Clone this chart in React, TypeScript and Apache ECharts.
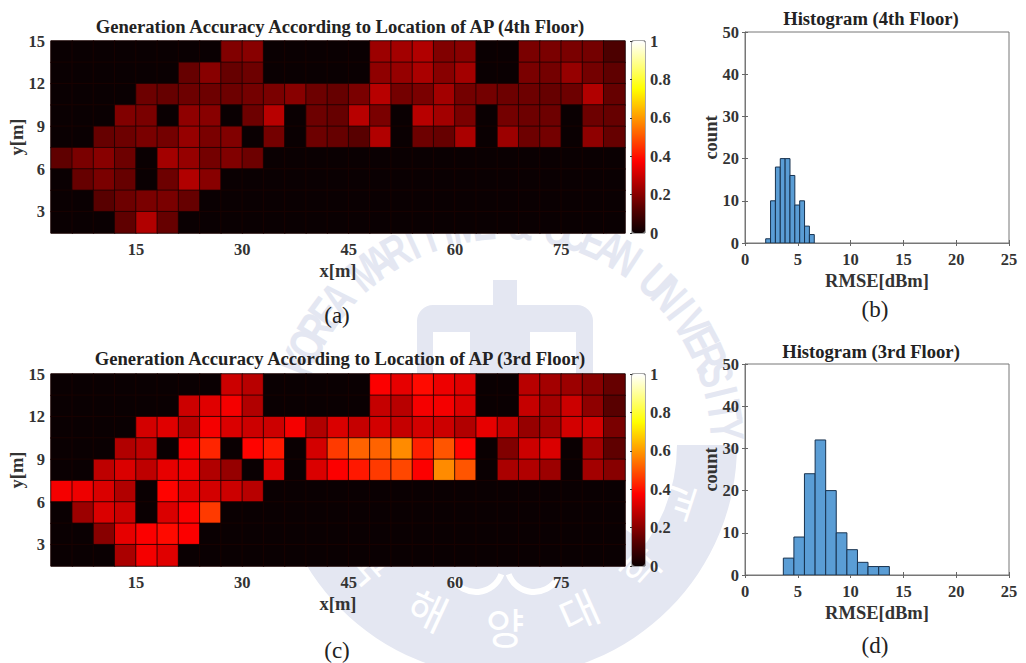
import React, { useEffect, useRef } from "react";
import * as echarts from "echarts";

const xCols = Array.from({ length: 27 }, (_, i) => `c${i}`);
const yRows = ["r0", "r1", "r2", "r3", "r4", "r5", "r6", "r7", "r8"];
const xTicks = [15, 30, 45, 60, 75];
const yTicks = [3, 6, 9, 12, 15];

// rows listed top (y = 15) to bottom (y = 1.5), 3 m wide columns
const floor4 = [
  [0,0,0,0,0,0,0,0,.19,.2,0,0,0,0,0,.23,.24,.26,.19,.2,0,0,.18,.18,.18,.17,.11],
  [0,0,0,0,0,0,.15,.2,.15,.16,0,0,0,0,0,.21,.22,.25,.2,.24,0,0,.18,.17,.22,.17,.14],
  [0,0,0,0,.16,.15,.16,.16,.16,.17,.18,.2,.16,.15,.18,.27,.17,.18,.24,.17,.17,.16,.16,.15,.16,.26,.15],
  [0,0,0,.19,.18,0,.21,.2,0,.16,.27,0,.16,.15,.27,.18,0,.27,.24,.18,0,.17,.16,.16,0,.16,.15],
  [0,0,.15,.16,.18,.17,.22,.18,.19,0,.17,0,.16,.15,.13,.26,0,.16,.15,.25,0,.23,.16,.17,0,.21,.15],
  [.14,.18,.2,.16,0,.24,.22,.17,.19,.16,0,0,0,0,0,0,0,0,0,0,0,0,0,0,0,0,0],
  [0,.15,.18,.15,0,.16,.26,.2,0,0,0,0,0,0,0,0,0,0,0,0,0,0,0,0,0,0,0],
  [0,0,.13,.16,.18,.18,.15,0,0,0,0,0,0,0,0,0,0,0,0,0,0,0,0,0,0,0,0],
  [0,0,0,.14,.26,.15,0,0,0,0,0,0,0,0,0,0,0,0,0,0,0,0,0,0,0,0,0],
];
const floor3 = [
  [0,0,0,0,0,0,0,0,.3,.27,0,0,0,0,0,.37,.34,.39,.35,.33,0,0,.27,.24,.23,.2,.15],
  [0,0,0,0,0,0,.3,.33,.36,.26,0,0,0,0,0,.29,.27,.36,.36,.32,0,0,.29,.24,.3,.21,.13],
  [0,0,0,0,.31,.33,.27,.36,.32,.3,.3,.36,.26,.32,.29,.31,.29,.31,.3,.26,.34,.29,.22,.24,.31,.31,.18],
  [0,0,0,.26,.28,0,.36,.43,0,.38,.41,0,.31,.46,.52,.52,.58,.42,.5,.38,0,.19,.3,.32,0,.24,.14],
  [0,0,.28,.32,.28,.34,.35,.26,.22,0,.33,0,.32,.37,.41,.46,.48,.37,.58,.5,0,.25,.26,.23,0,.24,.2],
  [.36,.35,.32,.26,0,.38,.33,.31,.3,.27,0,0,0,0,0,0,0,0,0,0,0,0,0,0,0,0,0],
  [0,.23,.32,.3,0,.32,.37,.46,0,0,0,0,0,0,0,0,0,0,0,0,0,0,0,0,0,0,0],
  [0,0,.2,.34,.37,.39,.37,0,0,0,0,0,0,0,0,0,0,0,0,0,0,0,0,0,0,0,0],
  [0,0,0,.25,.36,.33,0,0,0,0,0,0,0,0,0,0,0,0,0,0,0,0,0,0,0,0,0],
];

const hist4Edges = [1.96, 2.42, 2.88, 3.34, 3.8, 4.26, 4.72, 5.18, 5.64, 6.1, 6.56];
const hist4Counts = [1, 10, 18, 20, 20, 16, 9, 10, 4, 2];
const hist3Edges = [3.63, 4.63, 5.63, 6.64, 7.64, 8.64, 9.65, 10.65, 11.65, 12.66, 13.67];
const hist3Counts = [4, 9, 24, 32, 20, 10, 6, 3, 2, 2];

const hotColors = ["#0a0002", "#550000", "#aa0000", "#ff0000", "#ff5500", "#ffaa00", "#ffff00", "#ffff80", "#ffffff"];

const SERIF = "'Liberation Serif', 'Times New Roman', serif";
const TICK = { fontFamily: SERIF, fontWeight: "bold" as const, fontSize: 16.5, color: "#333" };
const NAME = { fontFamily: SERIF, fontWeight: "bold" as const, fontSize: 18.5, color: "#333" };

const heatCells = (rows: number[][]) => {
  const out: number[][] = [];
  rows.forEach((row, r) => row.forEach((v, c) => out.push([c, 8 - r, v])));
  return out;
};
const histBars = (edges: number[], counts: number[]) =>
  counts.map((c, i) => [edges[i], edges[i + 1], c]);

const renderHistBar = (_: any, api: any) => {
  const a = api.coord([api.value(0), 0]);
  const b = api.coord([api.value(1), api.value(2)]);
  return {
    type: "rect",
    shape: { x: a[0], y: b[1], width: b[0] - a[0], height: a[1] - b[1] },
    style: { fill: "#5a9dd5", stroke: "#17324f", lineWidth: 1 },
  };
};

const WM = "#e4e7f2";
const wmCx = 505;
const wmCy = 445;
const arcLetters = "KOREA MARITIME & OCEAN UNIVERSITY";
const koLetters = ["한", "국", "해", "양", "대", "학", "교"];
const koAngles = [197, 221, 245, 270, 294, 318, 342];

const watermark = () => {
  const rad = (d: number) => (d * Math.PI) / 180;
  const els: any[] = [
    { type: "sector", z: -5, shape: { cx: wmCx, cy: wmCy, r: 232, r0: 172, startAngle: 0, endAngle: Math.PI }, style: { fill: WM } },
    { type: "sector", z: -5, shape: { cx: wmCx, cy: wmCy, r: 175, r0: 110, startAngle: rad(35), endAngle: rad(145) }, style: { fill: WM } },
    { type: "arc", z: -4, shape: { cx: 476, cy: 565, r: 27, startAngle: rad(20), endAngle: rad(150) }, style: { stroke: "#fff", lineWidth: 6, fill: "none" } },
    { type: "arc", z: -4, shape: { cx: 534, cy: 565, r: 27, startAngle: rad(30), endAngle: rad(160) }, style: { stroke: "#fff", lineWidth: 6, fill: "none" } },
    { type: "rect", z: -5, shape: { x: 493, y: 280, width: 24, height: 30 }, style: { fill: WM } },
    { type: "rect", z: -5, shape: { x: 417, y: 305, width: 176, height: 70, r: [16, 16, 0, 0] }, style: { fill: WM } },
    { type: "rect", z: -4, shape: { x: 433, y: 332, width: 37, height: 43 }, style: { fill: "#fff" } },
    { type: "rect", z: -4, shape: { x: 530, y: 332, width: 46, height: 43 }, style: { fill: "#fff" } },
  ];
  const n = arcLetters.length;
  for (let i = 0; i < n; i++) {
    if (arcLetters[i] === " ") continue;
    const deg = 158 - (i * 154) / (n - 1);
    const t = rad(deg);
    els.push({
      type: "text", z: -5,
      x: wmCx + 222 * Math.cos(t), y: wmCy - 222 * Math.sin(t),
      rotation: t - Math.PI / 2, scaleY: 1.4,
      style: { text: arcLetters[i], fill: WM, font: "bold 34px 'Liberation Sans', sans-serif", align: "center", verticalAlign: "middle" },
    });
  }
  koLetters.forEach((ch, i) => {
    const t = rad(koAngles[i]);
    els.push({
      type: "text", z: -4,
      x: wmCx + 180 * Math.cos(t), y: wmCy - 180 * Math.sin(t),
      rotation: t + Math.PI / 2,
      style: { text: ch, fill: "#fff", font: "42px 'Noto Sans CJK KR', sans-serif", align: "center", verticalAlign: "middle" },
    });
  });
  return els;
};

const titleText = (text: string, left: number, top: number) => ({
  text, left, top, padding: 0, textAlign: "center", textVerticalAlign: "middle",
  textStyle: { fontFamily: SERIF, fontWeight: "bold", fontSize: 18.6, color: "#222" },
});
const captionText = (text: string, left: number, top: number) => ({
  text, left, top, padding: 0, textAlign: "center", textVerticalAlign: "middle",
  textStyle: { fontFamily: SERIF, fontWeight: "normal", fontSize: 23, color: "#222" },
});

const gridBox = (left: number, top: number, width: number, height: number, backgroundColor: string, borderColor: string) => ({
  left, top, width, height, show: true, backgroundColor, borderColor, borderWidth: 1, outerBoundsMode: "none",
});

const option: any = {
  animation: false,
  backgroundColor: "#fff",
  title: [
    titleText("Generation Accuracy According to Location of AP (4th Floor)", 340, 26),
    titleText("Histogram (4th Floor)", 871, 18),
    titleText("Generation Accuracy According to Location of AP (3rd Floor)", 340, 358),
    titleText("Histogram (3rd Floor)", 871, 351),
    captionText("(a)", 337, 315),
    captionText("(b)", 875, 309),
    captionText("(c)", 337, 650),
    captionText("(d)", 875, 645),
  ],
  graphic: { elements: watermark() },
  grid: [
    gridBox(51, 41, 574, 192, "#0a0002", "#888"),
    gridBox(632, 41, 13, 192, "transparent", "#555"),
    gridBox(745, 32, 264, 211, "#fff", "#777"),
    gridBox(51, 374, 574, 192, "#0a0002", "#888"),
    gridBox(632, 374, 13, 192, "transparent", "#555"),
    gridBox(745, 364, 264, 211, "#fff", "#777"),
  ],
  xAxis: [] as any[],
  yAxis: [] as any[],
  visualMap: [0, 2].map((seriesIndex, i) => ({
    type: "continuous", seriesIndex, min: 0, max: 1, left: 632, top: i === 0 ? 41 : 374,
    itemWidth: 13, itemHeight: 192, padding: 0, calculable: false, hoverLink: false,
    text: null, inRange: { color: hotColors },
  })),
  series: [] as any[],
};

// Heat-map panel: hidden category axes carry the cells, value axes draw the metric scale.
const addHeat = (gridIndex: number, cbGrid: number, rows: number[][]) => {
  const xCat = option.xAxis.length;
  const yCat = option.yAxis.length;
  option.xAxis.push(
    { type: "category", gridIndex, data: xCols, show: false },
    {
      type: "value", gridIndex, position: "bottom", min: 3, max: 84, name: "x[m]", nameLocation: "middle",
      nameGap: 28, nameMoveOverlap: false, nameTextStyle: NAME, splitLine: { show: false }, axisLine: { show: false },
      axisTick: { show: false }, axisLabel: { ...TICK, margin: 8, customValues: xTicks },
    },
    { type: "value", gridIndex: cbGrid, min: 0, max: 1, show: false },
  );
  option.yAxis.push(
    { type: "category", gridIndex, data: yRows, show: false },
    {
      type: "value", gridIndex, position: "left", min: 1.5, max: 15, name: "y[m]", nameLocation: "middle",
      nameGap: 25, nameMoveOverlap: false, nameTextStyle: NAME, splitLine: { show: false }, axisLine: { show: false },
      axisTick: { show: false }, axisLabel: { ...TICK, margin: 6, customValues: yTicks },
    },
    {
      type: "value", gridIndex: cbGrid, position: "right", min: 0, max: 1, interval: 0.2,
      splitLine: { show: false }, axisLine: { show: false },
      axisTick: { show: true, inside: true, length: 2, lineStyle: { color: "#333" } },
      axisLabel: { ...TICK, margin: 5 },
    },
  );
  option.series.push({
    type: "heatmap", xAxisIndex: xCat, yAxisIndex: yCat, data: heatCells(rows),
    itemStyle: { borderColor: "#1c0000", borderWidth: 0.8 }, emphasis: { disabled: true },
  });
};

const addHist = (gridIndex: number, edges: number[], counts: number[]) => {
  const xi = option.xAxis.length;
  const yi = option.yAxis.length;
  const mirrorTick = { show: true, inside: true, length: 3, lineStyle: { color: "#666" } };
  option.xAxis.push(
    {
      type: "value", gridIndex, position: "bottom", min: 0, max: 25, interval: 5, name: "RMSE[dBm]",
      nameLocation: "middle", nameGap: 28, nameMoveOverlap: false, nameTextStyle: NAME, splitLine: { show: false },
      axisLine: { show: true, onZero: false, lineStyle: { color: "#777" } }, axisTick: mirrorTick,
      axisLabel: { ...TICK, margin: 8 },
    },
    {
      type: "value", gridIndex, position: "top", min: 0, max: 25, interval: 5, splitLine: { show: false },
      axisLine: { show: false }, axisTick: mirrorTick, axisLabel: { show: false },
    },
  );
  option.yAxis.push(
    {
      type: "value", gridIndex, position: "left", min: 0, max: 50, interval: 10, name: "count",
      nameLocation: "middle", nameGap: 25, nameMoveOverlap: false, nameTextStyle: NAME, splitLine: { show: false },
      axisLine: { show: true, onZero: false, lineStyle: { color: "#777" } }, axisTick: mirrorTick,
      axisLabel: { ...TICK, margin: 6 },
    },
    {
      type: "value", gridIndex, position: "right", min: 0, max: 50, interval: 10, splitLine: { show: false },
      axisLine: { show: false }, axisTick: mirrorTick, axisLabel: { show: false },
    },
  );
  option.series.push({
    type: "custom", xAxisIndex: xi, yAxisIndex: yi, data: histBars(edges, counts),
    encode: { x: [0, 1], y: 2 }, renderItem: renderHistBar, clip: true,
  });
};

addHeat(0, 1, floor4);
addHist(2, hist4Edges, hist4Counts);
addHeat(3, 4, floor3);
addHist(5, hist3Edges, hist3Counts);

export default function App() {
  const ref = useRef<HTMLDivElement>(null);
  useEffect(() => {
    const chart = echarts.init(ref.current!, undefined, { renderer: "svg" });
    chart.setOption(option);
    return () => chart.dispose();
  }, []);
  return <div ref={ref} style={{ position: "absolute", left: 0, top: 0, width: 1026, height: 663 }} />;
}
